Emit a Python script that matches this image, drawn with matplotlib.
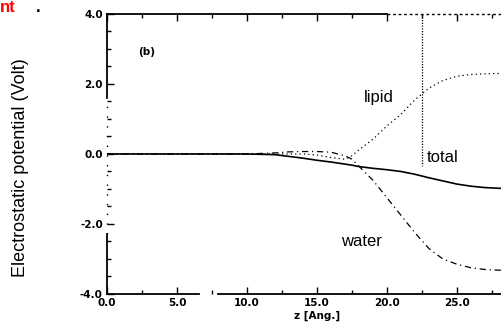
import numpy as np
import matplotlib.pyplot as plt
from matplotlib.ticker import MultipleLocator, FormatStrFormatter

# values
z = [0, 5, 10, 12, 13, 14, 15, 16, 17, 17.5, 18, 19, 20, 21, 22, 23, 24, 25, 26, 27, 28, 30]
total = [0, 0, 0, -0.02, -0.07, -0.12, -0.18, -0.23, -0.29, -0.32, -0.36, -0.41, -0.45, -0.5,
         -0.58, -0.68, -0.77, -0.86, -0.92, -0.96, -0.98, -1.0]
lipid = [0, 0, 0, 0, 0, 0, -0.03, -0.1, -0.15, -0.05, 0.12, 0.42, 0.8, 1.13,
         1.55, 1.88, 2.1, 2.22, 2.27, 2.29, 2.3, 2.3]
water = [0, 0, 0, 0.03, 0.06, 0.07, 0.07, 0.05, -0.05, -0.15, -0.35, -0.75, -1.25, -1.75,
         -2.25, -2.7, -3.0, -3.15, -3.25, -3.3, -3.32, -3.33]
artifact_z = 22.5
xticks = [0, 5, 10, 15, 20, 25]

fig = plt.figure(figsize=(5.01, 3.35), dpi=100)
ax = fig.add_axes([0.2136, 0.1224, 0.838, 0.836])

ax.plot(z, total, color="black", lw=1.2, ls="-")
ax.plot(z, lipid, color="black", lw=0.9, ls=(0, (1, 2.5)))
ax.plot(z, water, color="black", lw=0.9, ls=(0, (5, 3, 1, 3)))
ax.plot([artifact_z, artifact_z], [4.0, -0.35], color="black", lw=0.9, ls=(0, (1, 1.2)))

ax.set_xlim(0, 30)
ax.set_ylim(-4, 4)

# broken frame like the scan
for s in ax.spines.values():
    s.set_visible(False)
kw = dict(color="black", lw=1.3, clip_on=False)
ax.axvline(0, ymin=(1.6 + 4) / 8, ymax=1, **kw)
ax.axvline(0, ymin=0, ymax=(-2.3 + 4) / 8, **kw)
ax.axvline(0, ymin=(-2.3 + 4) / 8, ymax=(1.6 + 4) / 8, color="black", lw=1.0,
           ls=(0, (1, 6)), clip_on=False)
ax.axhline(-4, xmin=0, xmax=6.6 / 30, **kw)
ax.axhline(-4, xmin=7.9 / 30, xmax=1, **kw)
ax.axhline(4, xmin=0, xmax=20 / 30, **kw)
ax.axhline(4, xmin=20 / 30, xmax=1, color="black", lw=1.0, ls=(0, (2, 2)), clip_on=False)

ax.set_xticks(xticks)
ax.xaxis.set_minor_locator(MultipleLocator(2.5))
ax.yaxis.set_major_locator(MultipleLocator(2))
ax.yaxis.set_minor_locator(MultipleLocator(0.5))
ax.xaxis.set_major_formatter(FormatStrFormatter("%.1f"))
ax.yaxis.set_major_formatter(FormatStrFormatter("%.1f"))
ax.tick_params(which="both", direction="in", top=True, right=False, width=1.0,
               labelsize=7.5, pad=3)
ax.tick_params(which="major", length=5)
ax.tick_params(which="minor", length=3)
for lab in ax.get_xticklabels() + ax.get_yticklabels():
    lab.set_fontweight("bold")

ax.set_xlabel("z [Ang.]", fontsize=7.5, fontweight="bold", labelpad=2)
fig.text(0.04, 0.5, "Electrostatic potential (Volt)", rotation=90, va="center", ha="center",
         fontsize=13, family="Liberation Sans")

ax.text(2.8, 2.9, "(b)", fontsize=7.5, fontweight="bold", ha="center", va="center")
ax.text(19.4, 1.6, "lipid", fontsize=12, family="Liberation Sans", ha="center", va="center")
ax.text(24.0, -0.1, "total", fontsize=12, family="Liberation Sans", ha="center", va="center")
ax.text(18.2, -2.5, "water", fontsize=12, family="Liberation Sans", ha="center", va="center")

fig.text(0.0, 0.999, "nt", color="red", fontsize=12, fontweight="bold",
         family="Liberation Sans", ha="left", va="top")
fig.text(0.072, 0.999, ".", color="black", fontsize=12, fontweight="bold",
         family="Liberation Sans", ha="left", va="top")

fig.savefig("out.png", dpi=100)
